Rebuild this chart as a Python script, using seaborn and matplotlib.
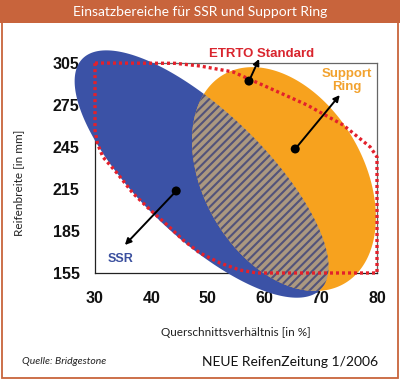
import numpy as np
import seaborn as sns
import matplotlib.pyplot as plt
from matplotlib.patches import Polygon, Rectangle

# axis ticks
x_ticks = [30, 40, 50, 60, 70, 80]
y_ticks = [155, 185, 215, 245, 275, 305]

# ETRTO standard outline (Querschnittsverhaeltnis %, Reifenbreite mm)
etrto_x = [30, 44.2, 48.6, 54.5, 60.5, 67.6, 74.0, 78.8, 80, 80, 58.7, 55.7, 52.2,
           48.6, 45.6, 42.8, 39.8, 36.7, 33.9, 31.4, 30.4, 30, 30]
etrto_y = [305, 304.8, 302.9, 298.6, 287.9, 275, 260.7, 245, 237.9, 155, 155, 157.1, 162.1,
           169.3, 178.6, 189.3, 200, 212.1, 226.4, 237.9, 247.9, 257.1, 305]

# ranges as ellipses: center (x, y), half axes in x-units, tilt in degrees
ssr_center = (48.9, 225.7)
ssr_axes = (29.4, 11.1)
ssr_angle = -44
ring_center = (63.5, 222.1)
ring_axes = (21.4, 14.2)
ring_angle = -60

# callouts: label, text position, dot, arrow head
labels = ["ETRTO Standard", "Support\nRing", "SSR"]
label_pos = [(59.6, 311.4), (74.7, 292.5), (34.6, 165)]
dot_x = [57.3, 65.5, 44.4]
dot_y = [292.1, 243.6, 213.6]
head_x = [59.1, 73.4, 35.3]
head_y = [307.9, 282.1, 175]
label_colors = ["#d9252e", "#f2a22e", "#3a4f9e"]

blue = "#3b52a6"
orange = "#f7a21e"
red = "#e3202b"
frame = "#c8643c"

sns.set_theme(style="white")
plt.rcParams["hatch.linewidth"] = 1.5
plt.rcParams["font.family"] = ["Liberation Sans", "DejaVu Sans"]

fig = plt.figure(figsize=(4, 3.79), dpi=100)
ax = fig.add_axes([0.2375, 0.2797, 0.705, 0.554])
ax.set_xlim(30, 80)
ax.set_ylim(155, 305)

# y units per x unit so the ellipses keep their on-screen shape
bb = ax.get_position()
k = (bb.width * 400 / 50) / (bb.height * 379 / 150)


def ellipse_xy(center, half, angle):
    t = np.linspace(0, 2 * np.pi, 240)
    th = np.radians(angle)
    ex = half[0] * np.cos(t) * np.cos(th) - half[1] * np.sin(t) * np.sin(th)
    ey = half[0] * np.cos(t) * np.sin(th) + half[1] * np.sin(t) * np.cos(th)
    return center[0] + ex, center[1] + ey * k


sx, sy = ellipse_xy(ssr_center, ssr_axes, ssr_angle)
rx, ry = ellipse_xy(ring_center, ring_axes, ring_angle)

ssr_patch = ax.fill(sx, sy, color=blue, lw=0, zorder=3, clip_on=False)[0]
ax.fill(rx, ry, color=orange, lw=0, zorder=3.1, clip_on=False)

overlap = Polygon(np.column_stack([rx, ry]), closed=True, facecolor="#ab9880",
                  edgecolor="#52537a", hatch="////", lw=0, zorder=3.2)
ax.add_patch(overlap)
overlap.set_clip_path(ssr_patch)
overlap.set_clip_box(None)

sns.lineplot(x=etrto_x, y=etrto_y, sort=False, estimator=None, ax=ax,
             color=red, lw=2.4, zorder=4)
for l in ax.lines:
    l.set_linestyle((0, (0.9, 0.9)))
    l.set_dash_capstyle("butt")
    l.set_clip_on(False)

sns.scatterplot(x=dot_x, y=dot_y, ax=ax, color="black", s=42, edgecolor="none",
                zorder=6, clip_on=False)
for hx, hy, dx, dy in zip(head_x, head_y, dot_x, dot_y):
    ax.annotate("", xy=(hx, hy), xytext=(dx, dy), annotation_clip=False,
                arrowprops=dict(arrowstyle="-|>", color="black", lw=1.4,
                                mutation_scale=9, shrinkA=0, shrinkB=0), zorder=6)

sizes = [9.5, 9.5, 9]
for lab, pos, col, fs in zip(labels, label_pos, label_colors, sizes):
    ax.text(pos[0], pos[1], lab, color=col, fontsize=fs, fontweight="bold",
            ha="center", va="center", linespacing=1.1, zorder=7, clip_on=False)

ax.set_xticks(x_ticks)
ax.set_yticks(y_ticks)
ax.set_xticklabels([str(v) for v in x_ticks], fontsize=11.5, fontweight="bold", color="#111111")
ax.set_yticklabels([str(v) for v in y_ticks], fontsize=11.5, fontweight="bold", color="#111111")
ax.tick_params(axis="x", direction="in", length=3.5, width=0.8, color="#333333", pad=13)
ax.tick_params(axis="y", direction="in", length=3.5, width=0.8, color="#333333", pad=11)
for name, sp in ax.spines.items():
    sp.set_color("#222222" if name in ("left", "bottom") else "#666666")
    sp.set_linewidth(0.9)
    sp.set_zorder(2)

ax.set_xlabel("Querschnittsverhältnis [in %]", family=["Lato", "DejaVu Sans"], fontsize=8.5,
              color="#222222")
ax.set_ylabel("Reifenbreite [in mm]", family=["Lato", "DejaVu Sans"], fontsize=8.5,
              color="#222222")
ax.xaxis.set_label_coords(0.5, -0.255)
ax.yaxis.set_label_coords(-0.25, 0.43)

# title band and frame
fig.patches.append(Rectangle((0, 1 - 23 / 379), 1, 23 / 379, transform=fig.transFigure,
                             facecolor=frame, edgecolor="none", zorder=0))
fig.patches.append(Rectangle((0.004, 0.003), 0.99, 0.99, transform=fig.transFigure,
                             facecolor="none", edgecolor=frame, lw=1.3, zorder=0))
fig.text(0.5, 1 - 11.5 / 379, "Einsatzbereiche für SSR und Support Ring", color="white",
         fontsize=10, family=["Lato", "DejaVu Sans"], ha="center", va="center")
fig.text(0.055, 1 - 362 / 379, "Quelle: Bridgestone", fontsize=7.5, style="italic",
         family=["Lato", "DejaVu Sans"], color="#222222", ha="left", va="center")
fig.text(0.945, 1 - 362 / 379, "NEUE ReifenZeitung 1/2006", fontsize=10,
         family=["Lato", "DejaVu Sans"], color="#111111", ha="right", va="center")

fig.savefig("out.png", dpi=100)
